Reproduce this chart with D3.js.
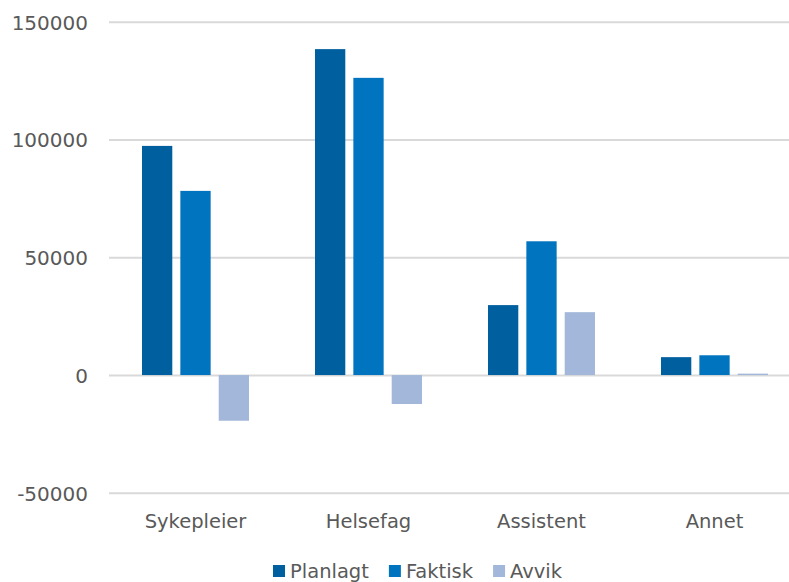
<!DOCTYPE html>
<html>
<head>
<meta charset="utf-8">
<script src="https://cdn.jsdelivr.net/npm/d3@7"></script>
<style>
  body { margin: 0; background: #fff; }
  svg { display: block; }
  text { font-family: "DejaVu Sans", sans-serif; fill: #595959; }
</style>
</head>
<body>
<svg id="chart"></svg>
<script>
const categories = ['Sykepleier', 'Helsefag', 'Assistent', 'Annet'];
const seriesNames = ['Planlagt', 'Faktisk', 'Avvik'];
const planlagt = [97300, 138400, 29700, 7600];
const faktisk = [78200, 126200, 56800, 8400];
const avvik = [-19400, -12300, 26700, 600];
const yTicks = [-50000, 0, 50000, 100000, 150000];

const COLORS = ['#005f9e', '#0074be', '#a2b7d9'];
const WIDTH = 789;
const HEIGHT = 582;
const MARGIN = { top: 22, left: 109, right: -12, bottom: 89 };

const seriesValues = [planlagt, faktisk, avvik];
const rows = categories.map((c, i) => ({
  cat: c,
  vals: seriesNames.map((s, j) => ({ key: s, value: seriesValues[j][i] }))
}));

const svg = d3.select('#chart').attr('width', WIDTH).attr('height', HEIGHT);

const x0 = d3.scaleBand()
  .domain(categories)
  .range([MARGIN.left, WIDTH - MARGIN.right])
  .paddingInner(0.3815)
  .paddingOuter(0.3815 / 2);

const x1 = d3.scaleBand()
  .domain(seriesNames)
  .range([0, x0.bandwidth()])
  .paddingInner(0.21);

const y = d3.scaleLinear()
  .domain([-50000, 150000])
  .range([HEIGHT - MARGIN.bottom - 0.2, MARGIN.top - 0.2]);

const color = d3.scaleOrdinal().domain(seriesNames).range(COLORS);

// gridlines + tick labels (plain hyphen for negatives, like Excel)
const axisY = d3.axisLeft(y)
  .tickValues(yTicks)
  .tickSize(-(WIDTH - MARGIN.right - MARGIN.left))
  .tickPadding(21)
  .tickFormat(d => String(d));

const gY = svg.append('g')
  .attr('transform', `translate(${MARGIN.left},0)`)
  .call(axisY);
gY.select('.domain').remove();
gY.selectAll('line').attr('stroke', '#d9d9d9').attr('stroke-width', 2);
gY.selectAll('text')
  .style('font-size', '20px')
  .attr('fill', '#595959')
  .attr('dy', '0.36em');

// bars
const gBars = svg.append('g');
const $group = gBars.selectAll('g.group')
  .data(rows)
  .enter().append('g')
  .attr('class', 'group')
  .attr('transform', d => `translate(${x0(d.cat)},0)`);

$group.selectAll('rect')
  .data(d => d.vals)
  .enter().append('rect')
  .attr('x', d => x1(d.key))
  .attr('width', x1.bandwidth())
  .attr('y', d => y(Math.max(0, d.value)))
  .attr('height', d => Math.abs(y(d.value) - y(0)))
  .attr('fill', d => color(d.key));

// category labels
svg.append('g').selectAll('text')
  .data(categories)
  .enter().append('text')
  .attr('x', d => x0(d) + x0.bandwidth() / 2)
  .attr('y', 528)
  .attr('text-anchor', 'middle')
  .style('font-size', '19.5px')
  .text(d => d);

// legend
const gLegend = svg.append('g').attr('transform', 'translate(273,0)');
let lx = 0;
seriesNames.forEach((s, i) => {
  const item = gLegend.append('g').attr('transform', `translate(${lx},0)`);
  item.append('rect')
    .attr('x', 0).attr('y', 565)
    .attr('width', 12).attr('height', 12)
    .attr('fill', color(s));
  const t = item.append('text')
    .attr('x', 17).attr('y', 578)
    .style('font-size', '19.5px')
    .text(s);
  lx += 17 + t.node().getComputedTextLength() + 20;
});
</script>
</body>
</html>
